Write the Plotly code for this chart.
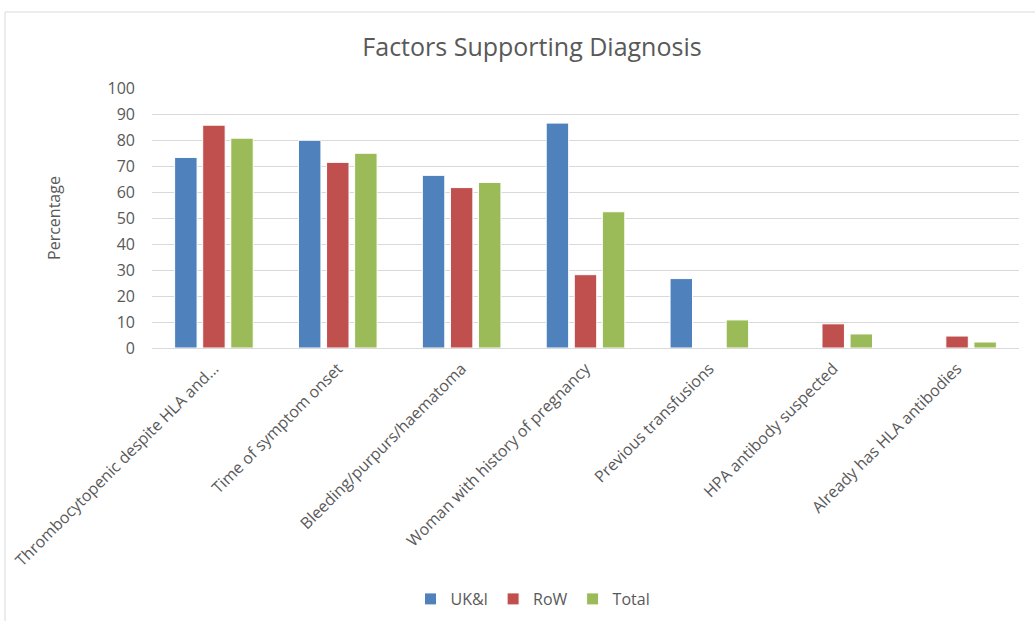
import plotly.graph_objects as go

categories = [
    "Thrombocytopenic despite HLA and...",
    "Time of symptom onset",
    "Bleeding/purpurs/haematoma",
    "Woman with history of pregnancy",
    "Previous transfusions",
    "HPA antibody suspected",
    "Already has HLA antibodies",
]
uk_i = [73.3, 79.9, 66.4, 86.5, 26.7, 0, 0]
row = [85.7, 71.4, 61.7, 28.2, 0, 9.3, 4.6]
total = [80.7, 74.9, 63.7, 52.4, 10.8, 5.4, 2.3]
y_ticks = list(range(0, 101, 10))

W, H = 1035, 621
L, R, T, B = 152, 16, 88, 273
pw, ph = W - L - R, H - T - B

def px_x(x):
    return (x - L) / pw

def px_y(y):
    return (H - B - y) / ph

FONT = "Open Sans, sans-serif"
GRAY = "#595959"

fig = go.Figure()
for name, vals, col in [("UK&I", uk_i, "#4F81BD"), ("RoW", row, "#C0504D"), ("Total", total, "#9BBB59")]:
    fig.add_trace(go.Bar(x=categories, y=vals, name=name,
                         marker=dict(color=col, line=dict(color="white", width=1))))

fig.update_layout(
    width=W, height=H,
    margin=dict(l=L, r=R, t=T, b=B, autoexpand=False),
    paper_bgcolor="white", plot_bgcolor="white",
    barmode="group", bargap=0.32, bargroupgap=0.2,
    font=dict(family=FONT, color=GRAY, size=16),
    title=dict(text="Factors Supporting Diagnosis", x=532 / W, xanchor="center",
               y=1 - 47 / H, yanchor="middle", font=dict(size=25, color=GRAY, family=FONT)),
    showlegend=True,
    legend=dict(orientation="h", xref="container", yref="container",
                x=533 / W, xanchor="center", y=1 - 599 / H, yanchor="middle",
                font=dict(size=16, color=GRAY), traceorder="normal", itemwidth=30),
    xaxis=dict(tickangle=-45, showgrid=False, showline=True, linecolor="#D9D9D9",
               ticks="", ticklabelstandoff=4, automargin=False,
               tickfont=dict(size=16, color=GRAY)),
    yaxis=dict(range=[0, 100], tickvals=y_ticks, showgrid=True, gridcolor="#D9D9D9",
               gridwidth=1, zeroline=False, showline=False, ticks="",
               ticklabelstandoff=16, automargin=False,
               tickfont=dict(size=16, color=GRAY),
               title=dict(text="Percentage", font=dict(size=16, color=GRAY), standoff=42)),
    shapes=[dict(type="rect", xref="paper", yref="paper",
                 x0=px_x(5), x1=1.1, y0=-1.5, y1=px_y(12),
                 line=dict(color="#D9D9D9", width=1), fillcolor="rgba(0,0,0,0)", layer="below")],
)

fig.write_html("out.html")
